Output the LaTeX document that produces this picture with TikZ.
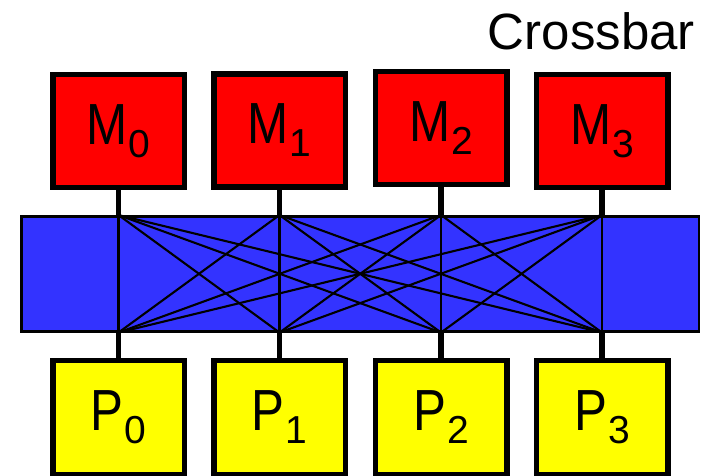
\documentclass[tikz,border=0pt]{standalone}
\usepackage{fontspec}
\setmainfont{Liberation Sans}
\newfontfamily\lblfont[FakeStretch=0.85]{Liberation Sans}
\usetikzlibrary{calc}
\definecolor{memred}{RGB}{255,0,0}
\definecolor{barblue}{RGB}{51,51,255}
\definecolor{procyellow}{RGB}{255,255,0}
% letter with a lowered index digit, e.g. M_0
\newcommand{\unitlabel}[2]{{\lblfont\fontsize{58}{58}\selectfont #1}\kern1pt\raisebox{-13pt}{\fontsize{39}{39}\selectfont #2}}

\begin{document}
\begin{tikzpicture}[x=1pt,y=-1pt,
  unitbox/.style={draw=black, line width=5.5pt, minimum width=131.5pt,
                  minimum height=112.5pt, inner sep=0pt},
  membox/.style={unitbox, fill=memred},
  procbox/.style={unitbox, fill=procyellow, minimum height=114.5pt},
  switchbar/.style={draw=black, fill=barblue, line width=2.5pt,
                    minimum width=677.5pt, minimum height=115pt, inner sep=0pt},
  stub/.style={line width=5.5pt},
  wire/.style={line width=2.1pt, line cap=round}]
\useasboundingbox (0,0) rectangle (704,476);
\fill[white] (0,0) rectangle (704,476);

% title
\node[anchor=base east, inner sep=0pt, font=\fontsize{51}{51}\selectfont]
  (title) at (695,50) {Crossbar};

% switching fabric
\node[switchbar] (bar) at (360,273.8) {};

% memories
\node[membox] (m0) at (118.5,131) {\unitlabel{M}{0}};
\node[membox] (m1) at (279.5,130.5) {\unitlabel{M}{1}};
\node[membox] (m2) at (441,128) {\unitlabel{M}{2}};
\node[membox] (m3) at (602,131) {\unitlabel{M}{3}};

% processors
\node[procbox] (p0) at (118.5,417.5) {\unitlabel{P}{0}};
\node[procbox] (p1) at (279.5,417.5) {\unitlabel{P}{1}};
\node[procbox] (p2) at (441,417.5) {\unitlabel{P}{2}};
\node[procbox] (p3) at (602,417.5) {\unitlabel{P}{3}};

% ports on the fabric edges
\foreach \i in {0,...,3} {
  \coordinate (t\i) at (bar.north -| m\i.south);
  \coordinate (b\i) at (bar.south -| p\i.north);
}

% every memory port wired to every processor port
\foreach \i in {0,...,3} {
  \foreach \j in {0,...,3} {
    \draw[wire] (t\i) -- (b\j);
  }
}

% links from the units to the fabric
\foreach \i in {0,...,3} {
  \draw[stub] (m\i.south) -- (t\i);
  \draw[stub] (b\i) -- (p\i.north);
}
\end{tikzpicture}
\end{document}
